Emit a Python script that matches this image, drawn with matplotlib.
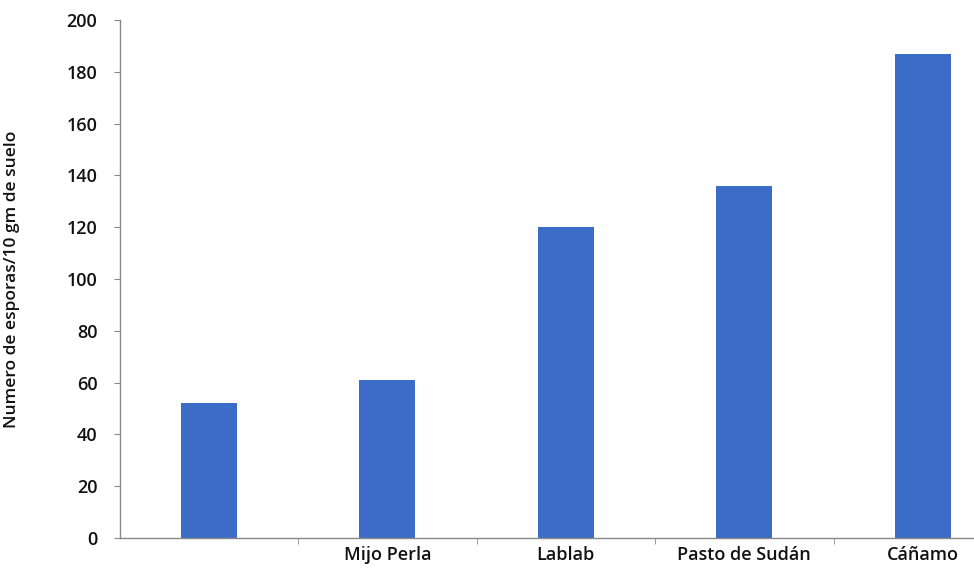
import matplotlib.pyplot as plt
import numpy as np

categories = ["", "Mijo Perla", "Lablab", "Pasto de Sudán", "Cáñamo"]
esporas = [52, 61, 120, 136, 187]
yticks = [0, 20, 40, 60, 80, 100, 120, 140, 160, 180, 200]

plt.rcParams['font.family'] = ['Open Sans', 'DejaVu Sans']

W, H = 974, 572
fig = plt.figure(figsize=(W / 100, H / 100), dpi=100)
left_px, right_px, bottom_px, top_px = 119.5, 1012, 538, 20
ax = fig.add_axes([left_px / W, (H - bottom_px) / H,
                   (right_px - left_px) / W, (bottom_px - top_px) / H])

x = np.arange(len(categories))
ax.bar(x, esporas, width=0.315, color="#3b6cc8", zorder=2)

ax.set_xlim(-0.5, len(categories) - 0.5)
ax.set_ylim(0, 200)
ax.set_yticks(yticks)
ax.set_yticklabels([str(v) for v in yticks], fontsize=13, fontweight='semibold', color="#111111")

# category labels centred under bars, tick marks between categories
ax.set_xticks(x)
ax.set_xticklabels(categories, fontsize=13, fontweight='semibold', color="#111111")
ax.tick_params(axis='x', length=0, pad=6)
ax.set_xticks(np.arange(0.5, len(categories) - 0.5, 1), minor=True)
ax.tick_params(axis='x', which='minor', length=4, color="#888888", direction='out')
ax.tick_params(axis='y', length=4, color="#888888", direction='out', pad=12)

for s in ['top', 'right']:
    ax.spines[s].set_visible(False)
for s in ['left', 'bottom']:
    ax.spines[s].set_color("#888888")
    ax.spines[s].set_linewidth(1.0)

ax.set_ylabel("Numero de esporas/10 gm de suelo", fontsize=12.5,
              fontweight='semibold', color="#111111")
ax.yaxis.set_label_coords((20 - left_px) / (right_px - left_px), 0.5)

fig.savefig("out.png", dpi=100)
